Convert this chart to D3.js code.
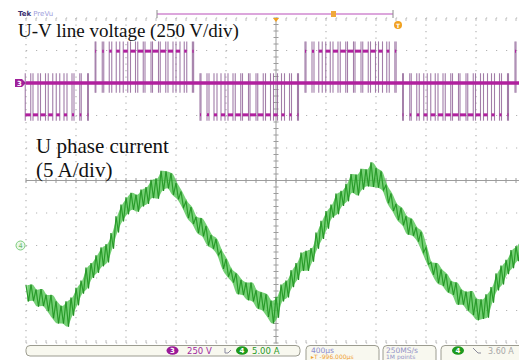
<!DOCTYPE html>
<html>
<head>
<meta charset="utf-8">
<script src="https://cdn.jsdelivr.net/npm/d3@7"></script>
<style>
body { margin: 0; background: #fff; }
svg { display: block; }
</style>
</head>
<body>
<svg id="scope" width="519" height="360"></svg>
<script>
// U-V line voltage: PWM pulses (centre us, width us, polarity)
var pulseCenters = [16, 76, 136, 196, 256, 316, 376, 436, 496, 556, 616, 676, 736, 796, 856, 916, 976,
	1036, 1096, 1156, 1216, 1276, 1336, 1396, 1456, 1516, 1576, 1636, 1696, 1756, 1816, 1876, 1936, 1996,
	2056, 2116, 2176, 2236, 2296, 2356, 2416, 2476, 2536, 2596, 2656, 2716, 2776, 2836, 2896, 2956,
	3016, 3076, 3136, 3196, 3256, 3316, 3376, 3436, 3496, 3556, 3616, 3676, 3736, 3796, 3856, 3916, 3976];
var pulseWidths = [44, 40, 40, 36, 28, 24, 16, 12, 6,
	6, 12, 20, 28, 36, 40, 44, 48, 48, 44, 40, 32, 20, 10,
	8, 16, 24, 32, 40, 44, 48, 48, 44, 40, 32, 24, 16, 8,
	8, 16, 28, 36, 40, 44, 48, 48, 44, 40, 32, 20, 10,
	6, 12, 20, 28, 36, 40, 44, 48, 48, 44, 40, 32, 24, 16, 8,
	8, 16];
var pulseSigns = [-1, -1, -1, -1, -1, -1, -1, -1, -1,
	1, 1, 1, 1, 1, 1, 1, 1, 1, 1, 1, 1, 1, 1,
	-1, -1, -1, -1, -1, -1, -1, -1, -1, -1, -1, -1, -1, -1,
	1, 1, 1, 1, 1, 1, 1, 1, 1, 1, 1, 1, 1,
	-1, -1, -1, -1, -1, -1, -1, -1, -1, -1, -1, -1, -1, -1, -1,
	1, 1];
var busV = 245;          // pulse level (V)
var overshootV = 320;    // edge ringing beyond the level
var undershootV = 75;    // edge ringing past zero

// U phase current (A): upper ripple peaks at t = 40i, lower at t = 40i + 20
var currentHi = [-6.1, -6.0, -6.8, -6.7, -7.6, -7.6, -8.6, -9.3, -8.6, -8.0,
	-6.5, -5.4, -3.4, -2.7, -1.5, -0.3, 0.2, 1.9, 4.5, 6.3,
	7.4, 8.1, 7.8, 8.6, 9.0, 10.1, 10.3, 11.5, 11.4, 11.1,
	9.6, 8.3, 6.8, 5.9, 4.4, 4.2, 3.0, 1.6, 1.0, -0.8,
	-2.1, -3.7, -4.3, -5.3, -5.7, -5.7, -6.9, -7.2, -7.5, -8.5,
	-7.9, -6.0, -5.4, -3.8, -2.7, -1.1, -0.8, -0.4, 2.0, 3.8,
	5.3, 6.3, 8.0, 8.4, 9.5, 11.0, 10.9, 11.8, 11.7, 12.8,
	11.9, 11.4, 9.3, 8.0, 6.4, 5.8, 4.5, 4.1, 2.8, 2.1,
	-0.3, -2.6, -2.7, -3.7, -4.4, -5.5, -5.7, -6.8, -7.1, -7.0,
	-8.2, -8.3, -7.5, -6.4, -4.3, -3.1, -2.2, -0.7, -0.1, 1.2];
var currentLo = [-8.6, -8.5, -9.4, -9.3, -10.1, -11.2, -12.0, -12.0, -12.5, -10.8,
	-9.2, -7.4, -6.6, -5.0, -4.2, -3.2, -2.6, -0.5, 2.0, 3.7,
	4.8, 5.5, 5.2, 6.0, 6.4, 7.3, 7.2, 8.4, 8.8, 7.8,
	7.1, 5.8, 4.2, 3.3, 1.9, 1.4, 0.0, -0.5, -1.5, -3.6,
	-4.8, -5.7, -7.5, -7.6, -8.4, -8.6, -9.7, -10.0, -11.0, -12.0,
	-11.1, -8.6, -8.0, -6.4, -5.3, -3.9, -3.9, -2.5, -0.5, 1.0,
	2.6, 4.3, 4.8, 6.1, 6.8, 8.1, 7.7, 8.6, 9.1, 9.0,
	8.9, 8.5, 6.5, 5.3, 3.9, 3.1, 1.7, 1.5, 0.6, -1.1,
	-2.9, -4.5, -5.8, -6.2, -7.2, -7.6, -9.1, -9.1, -10.0, -10.7,
	-11.5, -11.3, -11.1, -8.8, -6.9, -6.0, -4.4, -3.5, -2.4, -2.0];
var sampleStep = 40;     // us

var labelVoltage = 'U-V line voltage (250 V/div)';
var labelCurrent = ['U phase current', '(5 A/div)'];
var ch3Scale = '250 V';
var ch4Scale = '5.00 A';
var timeBase = '400\u00b5s';
var triggerPos = '\u25b8T -996.000\u00b5s';
var sampleRate = '250MS/s';
var recordLen = '1M points';
var triggerLevel = '3.60 A';

var svg = d3.select('#scope');
var serif = '"Liberation Serif", "Times New Roman", serif';
var sans = '"DejaVu Sans", "Liberation Sans", sans-serif';

// 400 us/div horizontally, 10 div; 10 div vertically
var x = d3.scaleLinear().domain([0, 4000]).range([26, 526]);
var gx = d3.scaleLinear().domain([0, 10]).range([26, 526]);
var gy = d3.scaleLinear().domain([0, 10]).range([18, 343]);
var yV = d3.scaleLinear().domain([0, 250]).range([gy(2), gy(1)]);
var yI = d3.scaleLinear().domain([0, 5]).range([gy(7), gy(6)]);

// ---- graticule
var grid = svg.append('g').attr('id', 'graticule');
d3.range(0, 11).forEach(function(i) {
	if (i == 5) return;
	grid.append('line')
		.attr('x1', gx(0)).attr('x2', gx(10))
		.attr('y1', gy(i)).attr('y2', gy(i))
		.style('stroke', '#b4b4b4').style('stroke-width', '1.2px')
		.style('stroke-dasharray', '1.2,8.8');
	grid.append('line')
		.attr('x1', gx(i)).attr('x2', gx(i))
		.attr('y1', gy(0)).attr('y2', gy(10))
		.style('stroke', '#b4b4b4').style('stroke-width', '1.2px')
		.style('stroke-dasharray', '1.2,5.3');
});
grid.append('line')
	.attr('x1', gx(0)).attr('x2', gx(10))
	.attr('y1', gy(5)).attr('y2', gy(5))
	.style('stroke', '#9c9c9c').style('stroke-width', '1px');
grid.append('line')
	.attr('x1', gx(5)).attr('x2', gx(5))
	.attr('y1', gy(0)).attr('y2', gy(10))
	.style('stroke', '#9c9c9c').style('stroke-width', '1px');
d3.range(0, 10.01, 0.2).forEach(function(d) {
	grid.append('line')
		.attr('x1', gx(d)).attr('x2', gx(d))
		.attr('y1', gy(5) - 2.5).attr('y2', gy(5) + 2.5)
		.style('stroke', '#9c9c9c').style('stroke-width', '1px');
	grid.append('line')
		.attr('x1', gx(5) - 2.5).attr('x2', gx(5) + 2.5)
		.attr('y1', gy(d)).attr('y2', gy(d))
		.style('stroke', '#9c9c9c').style('stroke-width', '1px');
	grid.append('line')
		.attr('x1', gx(d)).attr('x2', gx(d))
		.attr('y1', gy(10) - 3).attr('y2', gy(10))
		.style('stroke', '#bdbdbd').style('stroke-width', '1px');
	grid.append('line')
		.attr('x1', gx(d)).attr('x2', gx(d))
		.attr('y1', gy(0)).attr('y2', gy(0) + 3)
		.style('stroke', '#bdbdbd').style('stroke-width', '1px');
});

// ---- channel 3: line voltage
var vTrace = svg.append('g').attr('id', 'ch3');
pulseCenters.forEach(function(t, k) {
	var w = pulseWidths[k];
	var s = pulseSigns[k];
	var hi = s > 0 ? overshootV : undershootV;
	var lo = s > 0 ? -undershootV : -overshootV + 30;
	[t - w / 2, t + w / 2].forEach(function(te) {
		vTrace.append('line')
			.attr('x1', x(te)).attr('x2', x(te))
			.attr('y1', yV(lo)).attr('y2', yV(hi))
			.style('stroke', '#93679a').style('stroke-width', '1.1px')
			.style('opacity', 0.85);
	});
	vTrace.append('line')
		.attr('x1', x(t - w / 2)).attr('x2', x(t + w / 2))
		.attr('y1', yV(s * busV)).attr('y2', yV(s * busV))
		.style('stroke', '#b0209e').style('stroke-width', '3px');
});
vTrace.append('line')
	.attr('x1', x(0)).attr('x2', x(4000))
	.attr('y1', yV(0)).attr('y2', yV(0))
	.style('stroke', '#b0209e').style('stroke-width', '3.5px');

// ---- channel 4: phase current
var iPts = [];
currentHi.forEach(function(v, i) {
	iPts.push([i * sampleStep, v]);
	iPts.push([i * sampleStep + sampleStep / 2, currentLo[i]]);
});
var iLine = d3.line()
	.x(function(d) { return x(d[0]); })
	.y(function(d) { return yI(d[1]); });
var iArea = d3.area()
	.x(function(d, i) { return x(i * sampleStep + sampleStep / 4); })
	.y0(function(d, i) { return yI(currentLo[i]); })
	.y1(function(d) { return yI(d); })
	.curve(d3.curveMonotoneX);

var iTrace = svg.append('g').attr('id', 'ch4');
iTrace.append('path')
	.attr('d', iArea(currentHi))
	.style('fill', '#48c048').style('opacity', 0.75);
iTrace.append('path')
	.attr('d', iLine(iPts))
	.style('fill', 'none')
	.style('stroke', '#36b836').style('stroke-width', '1.2px');
iTrace.append('path')
	.attr('d', iLine(iPts))
	.style('fill', 'none')
	.style('stroke', '#0f4a12').style('stroke-width', '0.5px')
	.style('opacity', 0.55);

// ---- text labels
svg.append('text')
	.attr('x', 18).attr('y', 37)
	.style('font-family', serif).style('font-size', '19px').style('fill', '#111')
	.text(labelVoltage);
labelCurrent.forEach(function(s, i) {
	svg.append('text')
		.attr('x', 36).attr('y', 153 + i * 24)
		.style('font-family', serif).style('font-size', '21px').style('fill', '#111')
		.text(s);
});

// ---- scope chrome: logo, record bar, markers
var logo = svg.append('text').attr('x', 18).attr('y', 16)
	.style('font-family', sans).style('font-size', '7px');
logo.append('tspan').style('font-weight', 'bold').style('fill', '#3a3270').text('Tek');
logo.append('tspan').attr('dx', 2).style('fill', '#a0a0dc').text('PreVu');

svg.append('line')
	.attr('x1', 157).attr('x2', 393).attr('y1', 14).attr('y2', 14)
	.style('stroke', '#dca6dc').style('stroke-width', '2px');
[157, 393].forEach(function(px) {
	svg.append('line')
		.attr('x1', px).attr('x2', px).attr('y1', 10).attr('y2', 18)
		.style('stroke', '#8c8c8c').style('stroke-width', '1px');
});
svg.append('path')
	.attr('d', 'M' + (gx(5) - 3) + ',18 L' + (gx(5) + 3) + ',18 L' + gx(5) + ',22 Z')
	.style('fill', '#f0a020');
svg.append('rect')
	.attr('x', 331).attr('y', 11).attr('width', 5).attr('height', 6)
	.style('fill', '#f0a83a');
svg.append('circle')
	.attr('cx', 398).attr('cy', 25).attr('r', 4)
	.style('fill', '#f0a020');
svg.append('text')
	.attr('x', 398).attr('y', 27.5).attr('text-anchor', 'middle')
	.style('font-family', sans).style('font-size', '6px').style('fill', '#fff').style('font-weight', 'bold')
	.text('T');

// channel offset markers
svg.append('path')
	.attr('d', 'M15,' + (yV(0) - 4) + ' h7 l4,4 l-4,4 h-7 Z')
	.style('fill', '#a0209a');
svg.append('text')
	.attr('x', 19.5).attr('y', yV(0) + 2.5).attr('text-anchor', 'middle')
	.style('font-family', sans).style('font-size', '7px').style('fill', '#fff').style('font-weight', 'bold')
	.text('3');
svg.append('circle')
	.attr('cx', 20.5).attr('cy', yI(0)).attr('r', 4.5)
	.style('fill', '#eaf8ea').style('stroke', '#7ccc7c').style('stroke-width', '1px');
svg.append('text')
	.attr('x', 20.5).attr('y', yI(0) + 2.5).attr('text-anchor', 'middle')
	.style('font-family', sans).style('font-size', '6.5px').style('fill', '#6cbc6c')
	.text('4');

// ---- status bar
var bar = svg.append('g').attr('id', 'status');
function box(x0, w, h) {
	bar.append('rect')
		.attr('x', x0).attr('y', 345.5).attr('width', w).attr('height', h).attr('rx', 4)
		.style('fill', '#f8f8ef').style('stroke', '#9c9c90').style('stroke-width', '1px');
}
function badge(cx, fill, label) {
	bar.append('ellipse')
		.attr('cx', cx).attr('cy', 350.5).attr('rx', 6).attr('ry', 4.3)
		.style('fill', fill);
	bar.append('text')
		.attr('x', cx).attr('y', 353).attr('text-anchor', 'middle')
		.style('font-family', sans).style('font-size', '7px').style('font-weight', 'bold').style('fill', '#fff')
		.text(label);
}
function small(x0, y0, color, s, size) {
	bar.append('text')
		.attr('x', x0).attr('y', y0)
		.style('font-family', sans).style('font-size', (size || 8.5) + 'px').style('fill', color)
		.text(s);
}
box(26, 274, 10.5);
badge(172.5, '#9a1a98', '3');
small(187, 353.5, '#a02aa0', ch3Scale);
bar.append('path')
	.attr('d', 'M225,348 v5 h3 M228,353 l3,-3')
	.style('fill', 'none').style('stroke', '#8a8aa0').style('stroke-width', '1px');
badge(242, '#1e9a1e', '4');
small(252, 353.5, '#2a9a2a', ch4Scale);

box(306, 73, 20);
small(311, 352.5, '#8c8cd0', timeBase, 7.5);
small(311, 359.3, '#f0a030', triggerPos, 6);
box(383, 53, 20);
small(386, 352.5, '#9494c8', sampleRate, 7.5);
small(386, 359.3, '#9494c8', recordLen, 6);
box(441, 90, 20);
badge(458, '#1e9a1e', '4');
bar.append('path')
	.attr('d', 'M473,348 l5,5 h3')
	.style('fill', 'none').style('stroke', '#8a8a9a').style('stroke-width', '1px');
small(488, 353.5, '#a8a8a8', triggerLevel, 8);
</script>
</body>
</html>
